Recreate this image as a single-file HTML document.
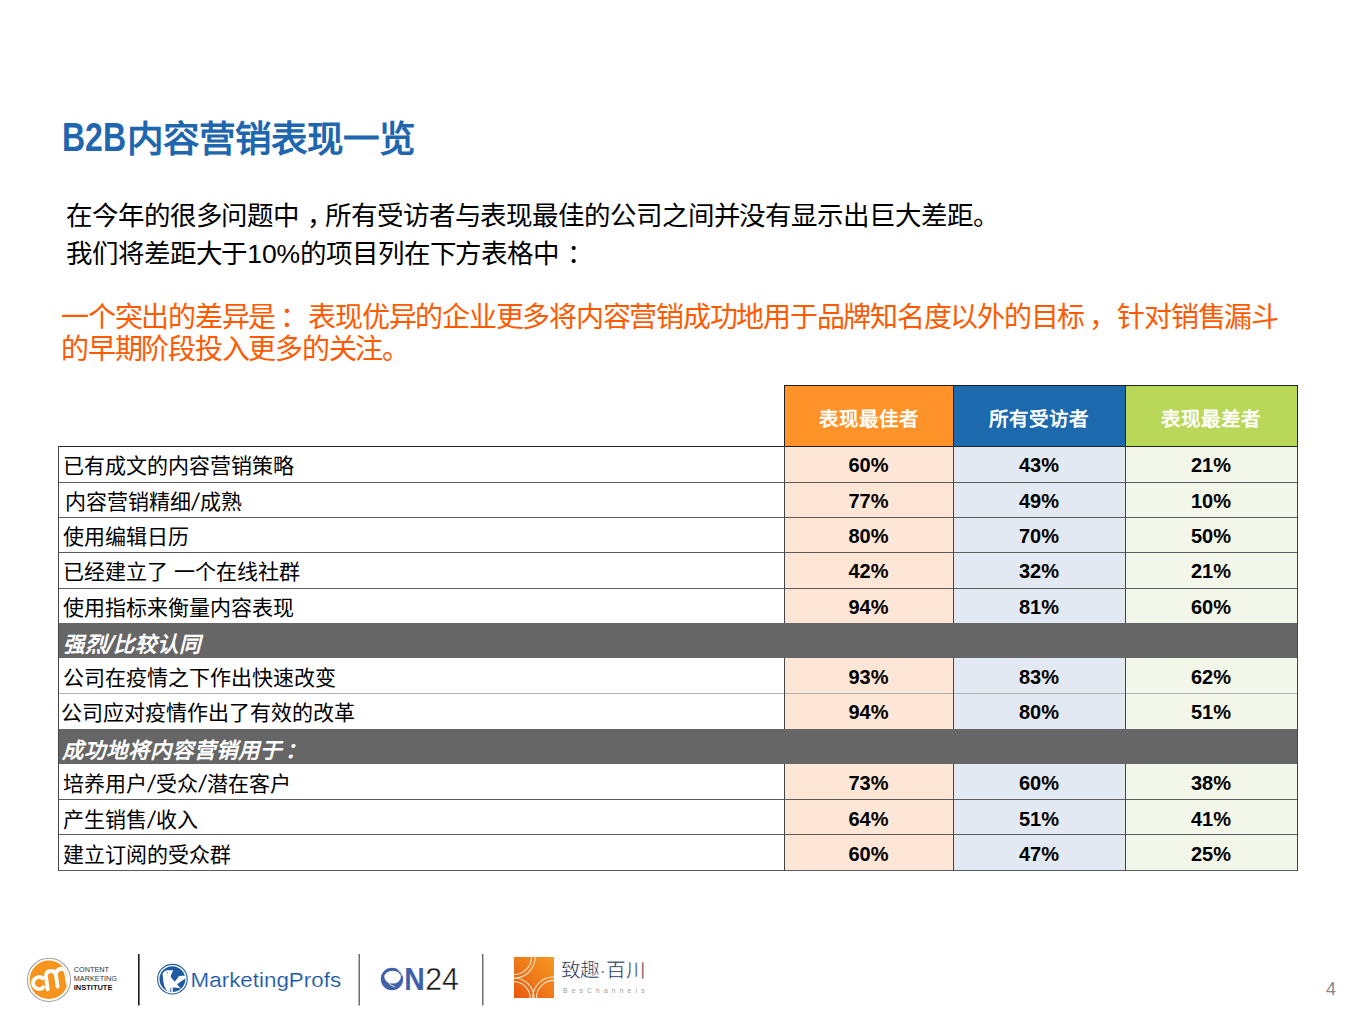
<!DOCTYPE html>
<html lang="zh-CN">
<head>
<meta charset="utf-8">
<style>
html,body{margin:0;padding:0;background:#fff;}
body{width:1365px;height:1023px;position:relative;overflow:hidden;font-family:"Liberation Sans",sans-serif;}
div{position:absolute;white-space:nowrap;}
#b2b{left:62px;top:112px;font-size:41px;line-height:50px;font-weight:bold;color:#1E67AE;transform:scaleX(0.78);transform-origin:0 0;}
#title{left:126.5px;top:115px;font-size:36.5px;line-height:50px;font-weight:bold;color:#1E67AE;letter-spacing:0px;}
#p1{left:66px;top:198px;font-size:26.5px;line-height:37.5px;color:#000;letter-spacing:-0.1px;}
#p2{left:61px;top:301.5px;font-size:28px;line-height:32px;color:#FF5A00;letter-spacing:-1.25px;}
.hd{top:385px;height:61px;}
.ht{top:385px;height:61px;line-height:68px;text-align:center;color:#fff;font-weight:bold;font-size:19.5px;}
.fill{}
.dark{left:58px;width:1240px;background:#666;}
.lb{font-size:21px;line-height:40px;color:#000;}
.dl{font-size:21.5px;line-height:44px;color:#fff;font-weight:bold;font-style:italic;}
.num{font-size:20px;line-height:38px;font-weight:bold;text-align:center;color:#000;}
.ln{}
.hb{background:#222;}
.hl{background:#5c5c5c;}
.hl2{background:#b0b0b0;}
.vl{background:#444;}

.sl{padding:0 1.5px;display:inline-block;transform:scaleY(1.15) skewX(-12deg);}
.dl .sl{padding:0;}
.pc{position:relative;left:7.5px;}
#p2 .pc{left:5px;}
.pc2{position:relative;left:3px;}

</style>
</head>
<body>
<div id="b2b">B2B</div>
<div id="title">内容营销表现一览</div>
<div id="p1">在今年的很多问题中<span class="pc">，</span>所有受访者与表现最佳的公司之间并没有显示出巨大差距。<br>我们将差距大于10%的项目列在下方表格中<span class="pc">：</span></div>
<div id="p2">一个突出的差异是<span class="pc">：</span> 表现优异的企业更多将内容营销成功地用于品牌知名度以外的目标<span class="pc">，</span> 针对销售漏斗<br>的早期阶段投入更多的关注。</div>
<div class="hd" style="left:784px;width:169px;background:#FF9329"></div>
<div class="hd" style="left:953px;width:172px;background:#1C69AD"></div>
<div class="hd" style="left:1125px;width:172px;background:#B9D759"></div>
<div class="ht" style="left:784px;width:169px">表现最佳者</div>
<div class="ht" style="left:953px;width:172px">所有受访者</div>
<div class="ht" style="left:1125px;width:172px">表现最差者</div>
<div class="fill" style="left:784px;top:446px;width:169px;height:36px;background:#FDE6D5"></div>
<div class="fill" style="left:953px;top:446px;width:172px;height:36px;background:#E3E9F3"></div>
<div class="fill" style="left:1125px;top:446px;width:172px;height:36px;background:#F3F7E9"></div>
<div class="lb" style="left:63px;top:446px">已有成文的内容营销策略</div>
<div class="num" style="left:784px;top:446px;width:169px">60%</div>
<div class="num" style="left:953px;top:446px;width:172px">43%</div>
<div class="num" style="left:1125px;top:446px;width:172px">21%</div>
<div class="fill" style="left:784px;top:482px;width:169px;height:35px;background:#FDE6D5"></div>
<div class="fill" style="left:953px;top:482px;width:172px;height:35px;background:#E3E9F3"></div>
<div class="fill" style="left:1125px;top:482px;width:172px;height:35px;background:#F3F7E9"></div>
<div class="lb" style="left:65px;top:482px">内容营销精细<span class="sl">/</span>成熟</div>
<div class="num" style="left:784px;top:482px;width:169px">77%</div>
<div class="num" style="left:953px;top:482px;width:172px">49%</div>
<div class="num" style="left:1125px;top:482px;width:172px">10%</div>
<div class="fill" style="left:784px;top:517px;width:169px;height:35px;background:#FDE6D5"></div>
<div class="fill" style="left:953px;top:517px;width:172px;height:35px;background:#E3E9F3"></div>
<div class="fill" style="left:1125px;top:517px;width:172px;height:35px;background:#F3F7E9"></div>
<div class="lb" style="left:63px;top:517px">使用编辑日历</div>
<div class="num" style="left:784px;top:517px;width:169px">80%</div>
<div class="num" style="left:953px;top:517px;width:172px">70%</div>
<div class="num" style="left:1125px;top:517px;width:172px">50%</div>
<div class="fill" style="left:784px;top:552px;width:169px;height:36px;background:#FDE6D5"></div>
<div class="fill" style="left:953px;top:552px;width:172px;height:36px;background:#E3E9F3"></div>
<div class="fill" style="left:1125px;top:552px;width:172px;height:36px;background:#F3F7E9"></div>
<div class="lb" style="left:63px;top:552px">已经建立了 一个在线社群</div>
<div class="num" style="left:784px;top:552px;width:169px">42%</div>
<div class="num" style="left:953px;top:552px;width:172px">32%</div>
<div class="num" style="left:1125px;top:552px;width:172px">21%</div>
<div class="fill" style="left:784px;top:588px;width:169px;height:35px;background:#FDE6D5"></div>
<div class="fill" style="left:953px;top:588px;width:172px;height:35px;background:#E3E9F3"></div>
<div class="fill" style="left:1125px;top:588px;width:172px;height:35px;background:#F3F7E9"></div>
<div class="lb" style="left:63px;top:588px">使用指标来衡量内容表现</div>
<div class="num" style="left:784px;top:588px;width:169px">94%</div>
<div class="num" style="left:953px;top:588px;width:172px">81%</div>
<div class="num" style="left:1125px;top:588px;width:172px">60%</div>
<div class="dark" style="top:623px;height:35px"></div>
<div class="dl" style="left:63px;top:623px">强烈<span class="sl">/</span>比较认同</div>
<div class="fill" style="left:784px;top:658px;width:169px;height:35px;background:#FDE6D5"></div>
<div class="fill" style="left:953px;top:658px;width:172px;height:35px;background:#E3E9F3"></div>
<div class="fill" style="left:1125px;top:658px;width:172px;height:35px;background:#F3F7E9"></div>
<div class="lb" style="left:63px;top:658px">公司在疫情之下作出快速改变</div>
<div class="num" style="left:784px;top:658px;width:169px">93%</div>
<div class="num" style="left:953px;top:658px;width:172px">83%</div>
<div class="num" style="left:1125px;top:658px;width:172px">62%</div>
<div class="fill" style="left:784px;top:693px;width:169px;height:36px;background:#FDE6D5"></div>
<div class="fill" style="left:953px;top:693px;width:172px;height:36px;background:#E3E9F3"></div>
<div class="fill" style="left:1125px;top:693px;width:172px;height:36px;background:#F3F7E9"></div>
<div class="lb" style="left:61px;top:693px">公司应对疫情作出了有效的改革</div>
<div class="num" style="left:784px;top:693px;width:169px">94%</div>
<div class="num" style="left:953px;top:693px;width:172px">80%</div>
<div class="num" style="left:1125px;top:693px;width:172px">51%</div>
<div class="dark" style="top:729px;height:35px"></div>
<div class="dl" style="left:62px;top:729px">成功地将内容营销用于<span class="pc2">：</span></div>
<div class="fill" style="left:784px;top:764px;width:169px;height:35px;background:#FDE6D5"></div>
<div class="fill" style="left:953px;top:764px;width:172px;height:35px;background:#E3E9F3"></div>
<div class="fill" style="left:1125px;top:764px;width:172px;height:35px;background:#F3F7E9"></div>
<div class="lb" style="left:63px;top:764px">培养用户<span class="sl">/</span>受众<span class="sl">/</span>潜在客户</div>
<div class="num" style="left:784px;top:764px;width:169px">73%</div>
<div class="num" style="left:953px;top:764px;width:172px">60%</div>
<div class="num" style="left:1125px;top:764px;width:172px">38%</div>
<div class="fill" style="left:784px;top:799px;width:169px;height:35px;background:#FDE6D5"></div>
<div class="fill" style="left:953px;top:799px;width:172px;height:35px;background:#E3E9F3"></div>
<div class="fill" style="left:1125px;top:799px;width:172px;height:35px;background:#F3F7E9"></div>
<div class="lb" style="left:63px;top:800px">产生销售<span class="sl">/</span>收入</div>
<div class="num" style="left:784px;top:800px;width:169px">64%</div>
<div class="num" style="left:953px;top:800px;width:172px">51%</div>
<div class="num" style="left:1125px;top:800px;width:172px">41%</div>
<div class="fill" style="left:784px;top:834px;width:169px;height:36px;background:#FDE6D5"></div>
<div class="fill" style="left:953px;top:834px;width:172px;height:36px;background:#E3E9F3"></div>
<div class="fill" style="left:1125px;top:834px;width:172px;height:36px;background:#F3F7E9"></div>
<div class="lb" style="left:63px;top:835px">建立订阅的受众群</div>
<div class="num" style="left:784px;top:835px;width:169px">60%</div>
<div class="num" style="left:953px;top:835px;width:172px">47%</div>
<div class="num" style="left:1125px;top:835px;width:172px">25%</div>
<div class="ln hb" style="left:784px;top:385px;width:514px;height:1px"></div>
<div class="ln hb" style="left:784px;top:385px;width:1px;height:61px"></div>
<div class="ln hb" style="left:953px;top:385px;width:1px;height:61px"></div>
<div class="ln hb" style="left:1125px;top:385px;width:1px;height:61px"></div>
<div class="ln hb" style="left:1297px;top:385px;width:1px;height:61px"></div>
<div class="ln hb" style="left:58px;top:446px;width:1240px;height:1px"></div>
<div class="ln hl" style="left:58px;top:482px;width:1240px;height:1px"></div>
<div class="ln hl" style="left:58px;top:517px;width:1240px;height:1px"></div>
<div class="ln hl" style="left:58px;top:552px;width:1240px;height:1px"></div>
<div class="ln hl" style="left:58px;top:588px;width:1240px;height:1px"></div>
<div class="ln hl2" style="left:58px;top:693px;width:1240px;height:1px"></div>
<div class="ln hl" style="left:58px;top:799px;width:1240px;height:1px"></div>
<div class="ln hl" style="left:58px;top:834px;width:1240px;height:1px"></div>
<div class="ln hl" style="left:58px;top:870px;width:1240px;height:1px"></div>
<div class="ln vl" style="left:784px;top:446px;width:1px;height:177px"></div>
<div class="ln vl" style="left:953px;top:446px;width:1px;height:177px"></div>
<div class="ln vl" style="left:1125px;top:446px;width:1px;height:177px"></div>
<div class="ln vl" style="left:1297px;top:446px;width:1px;height:177px"></div>
<div class="ln vl" style="left:784px;top:658px;width:1px;height:71px"></div>
<div class="ln vl" style="left:953px;top:658px;width:1px;height:71px"></div>
<div class="ln vl" style="left:1125px;top:658px;width:1px;height:71px"></div>
<div class="ln vl" style="left:1297px;top:658px;width:1px;height:71px"></div>
<div class="ln vl" style="left:784px;top:764px;width:1px;height:107px"></div>
<div class="ln vl" style="left:953px;top:764px;width:1px;height:107px"></div>
<div class="ln vl" style="left:1125px;top:764px;width:1px;height:107px"></div>
<div class="ln vl" style="left:1297px;top:764px;width:1px;height:107px"></div>
<div class="ln vl" style="left:58px;top:446px;width:1px;height:425px"></div>
<div class="ln vl" style="left:1297px;top:623px;width:1px;height:35px"></div>
<div class="ln vl" style="left:1297px;top:729px;width:1px;height:35px"></div>
<svg style="position:absolute;left:0;top:940px" width="700" height="83" viewBox="0 940 700 83">
<defs>
<clipPath id="cmiclip"><circle cx="48.8" cy="979.8" r="19.2"/></clipPath>
<clipPath id="mpclip"><circle cx="172.4" cy="979.2" r="12.9"/></clipPath>
<clipPath id="bcclip"><rect x="514" y="957" width="40" height="41"/></clipPath>
<linearGradient id="bcg" x1="0" y1="1" x2="1" y2="0"><stop offset="0" stop-color="#E9590F"/><stop offset="1" stop-color="#F59A22"/></linearGradient>
</defs>
<!-- CMI -->
<circle cx="49" cy="979.9" r="21.6" fill="none" stroke="#A3A3A3" stroke-width="1.1"/>
<circle cx="48.8" cy="979.8" r="19.2" fill="#F7941E"/>
<g clip-path="url(#cmiclip)" fill="none" stroke="#fff" stroke-width="3.9" stroke-linecap="round">
<path d="M42.6,978.2 A6,6 0 1 0 43.2,987.4"/>
<path d="M47.6,989.2 L46,976.6 Q45.8,971.3 50.6,971 Q55.2,970.6 56,975.6 L57.6,986.6 M56,975.6 Q55.9,969.2 61,968.8 Q65.6,968.6 66.4,973.6 L68,984"/>
</g>
<text x="73.8" y="972.2" font-family="Liberation Sans" font-size="7.3" fill="#333" textLength="35.2" lengthAdjust="spacingAndGlyphs">CONTENT</text>
<text x="73.8" y="981.1" font-family="Liberation Sans" font-size="7.3" fill="#333" textLength="43.2" lengthAdjust="spacingAndGlyphs">MARKETING</text>
<text x="73.8" y="989.9" font-family="Liberation Sans" font-size="7.3" font-weight="bold" fill="#111" textLength="38.6" lengthAdjust="spacingAndGlyphs">INSTITUTE</text>
<rect x="138" y="954" width="1.6" height="51.5" fill="#1a1a1a"/>
<!-- MarketingProfs -->
<circle cx="172.4" cy="979.2" r="14.8" fill="none" stroke="#1F5AA0" stroke-width="1.1"/>
<circle cx="172.4" cy="979.2" r="12.9" fill="#1F5AA0"/>
<g clip-path="url(#mpclip)">
<path fill="#fff" d="M162.5,973.8 L164.3,971.5 Q166,970.3 168,970.3 L173.3,970.3 L170.9,975.2 L170.9,977.3 L174.8,981.8 L179.1,976 L186,975.5 L186,978.1 L177,984.3 L180.8,988.8 Q176.5,987.2 172.8,987.6 L172.8,993 L169.2,993 Q163.2,988 163,978 Z"/>
<circle cx="167.2" cy="972.8" r="0.6" fill="#1F5AA0"/>
<rect x="170.3" y="988" width="0.9" height="5" fill="#1F5AA0"/>
</g>
<text x="190.6" y="987" font-family="Liberation Sans" font-size="20.5" fill="#1A58A4" stroke="#fff" stroke-width="0.15" textLength="150.5" lengthAdjust="spacingAndGlyphs">MarketingProfs</text>
<rect x="358.5" y="954" width="1.5" height="51.5" fill="#6e6e6e"/>
<!-- ON24 -->
<circle cx="392" cy="979" r="11.2" fill="#3F60AA"/>
<ellipse cx="392.6" cy="977.1" rx="8.3" ry="6.4" fill="#fff"/>
<path d="M386.6,977.6 Q387.6,984.6 394.6,986.8" fill="none" stroke="#fff" stroke-width="1"/>
<path d="M397.6,969.6 Q401.6,972.2 402.6,976.2" fill="none" stroke="#fff" stroke-width="0.9"/>
<text x="404.3" y="989.7" font-family="Liberation Sans" font-size="31" font-weight="bold" fill="#3F60AA" textLength="20.5" lengthAdjust="spacingAndGlyphs">N</text>
<text x="425.2" y="989.7" font-family="Liberation Sans" font-size="31" fill="#1b1b1b" stroke="#fff" stroke-width="0.4" textLength="33.6" lengthAdjust="spacingAndGlyphs">24</text>
<rect x="482" y="954" width="1.5" height="51.5" fill="#6e6e6e"/>
<!-- BesChannels -->
<rect x="514" y="957" width="40" height="41" fill="url(#bcg)"/>
<g clip-path="url(#bcclip)" fill="none" stroke="#FBE3C8" stroke-width="1.1">
<circle cx="514" cy="957" r="17.5"/><circle cx="514" cy="957" r="21.2"/>
<circle cx="514" cy="998" r="16.2"/><circle cx="514" cy="998" r="20"/>
<circle cx="554" cy="998" r="17.6"/><circle cx="554" cy="998" r="21.3"/>
</g>
<text x="560.6" y="977.3" font-size="19.2" fill="#0f1f3f" stroke="#fff" stroke-width="0.45" textLength="84.5" lengthAdjust="spacingAndGlyphs">致趣·百川</text>
<text x="563" y="992.8" font-family="Liberation Sans" font-size="6.6" fill="#9a9a9a" textLength="81.5" lengthAdjust="spacing">BesChannels</text>
</svg>
<div id="pg" style="left:1326px;top:977.5px;font-size:18px;line-height:22px;color:#888">4</div>
</body>
</html>
